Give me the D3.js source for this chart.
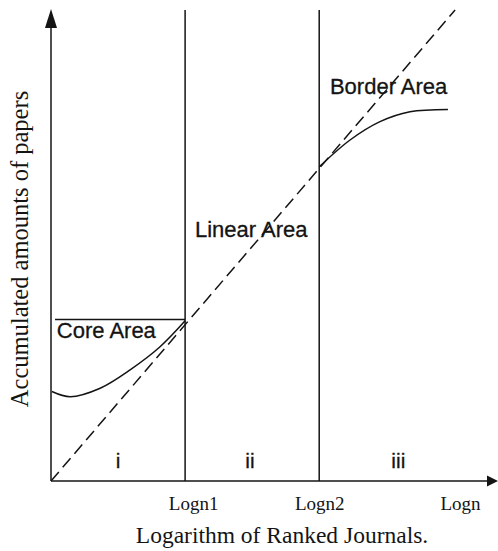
<!DOCTYPE html>
<html>
<head>
<meta charset="utf-8">
<script src="https://cdn.jsdelivr.net/npm/d3@7"></script>
<style>
  html, body { margin: 0; padding: 0; background: #fff; }
  svg { display: block; }
</style>
</head>
<body>
<svg id="chart" width="498" height="551"></svg>
<script>
// ---- data (abstract units: x = log rank, y = accumulated papers) ----
const boundaries = [3, 6];                       // Logn1, Logn2
const tickLabels = ["Logn1", "Logn2", "Logn"];
const tickValues = [3.18, 6, 9.15];
const diagonal = [[0, 0], [9.04, 10]];
const coreCurve = [[0.02, 1.90], [0.43, 1.79], [1.10, 1.97], [1.77, 2.36], [2.44, 2.85], [3.0, 3.40]];
const borderCurve = [[6.0, 6.67], [6.69, 7.24], [7.36, 7.63], [8.03, 7.84], [8.88, 7.89]];
const coreLevel = { y: 3.43, x0: 0.09, x1: 3.0 };
const zoneLabels = ["i", "ii", "iii"];
const zoneCenters = [1.5, 4.45, 7.77];
const areaLabels = [
  { text: "Core Area", x: 0.13, y: 3.04 },
  { text: "Linear Area", x: 3.22, y: 5.18 },
  { text: "Border Area", x: 6.24, y: 8.22 }
];

// ---- layout ----
const svg = d3.select("#chart");
const x = d3.scaleLinear().domain([0, 10]).range([51, 498]);
const y = d3.scaleLinear().domain([0, 10]).range([481, 10]);
const ink = "#141414";
const sw = 1.5;

// axes lines
svg.append("line").attr("x1", x(0)).attr("y1", y(0)).attr("x2", x(0)).attr("y2", y(10) + 14)
  .attr("stroke", ink).attr("stroke-width", sw);
svg.append("path")
  .attr("d", `M${x(0)},${y(10) - 1} L${x(0) - 6},${y(10) + 18} L${x(0) + 6},${y(10) + 18} Z`)
  .attr("fill", ink);
svg.append("line").attr("x1", x(0)).attr("y1", y(0)).attr("x2", x(10) - 8).attr("y2", y(0))
  .attr("stroke", ink).attr("stroke-width", sw);
svg.append("path")
  .attr("d", `M${x(10)},${y(0)} L${x(10) - 11},${y(0) - 5.5} L${x(10) - 11},${y(0) + 5.5} Z`)
  .attr("fill", ink);

// tick labels via d3 axis
const xAxis = d3.axisBottom(x).tickValues(tickValues)
  .tickFormat((d, i) => tickLabels[i]).tickSize(0).tickPadding(0);
const gx = svg.append("g").attr("transform", `translate(0,${y(0)})`).call(xAxis);
gx.select(".domain").remove();
gx.selectAll("text")
  .attr("font-family", "'Liberation Serif', 'Times New Roman', serif")
  .attr("font-size", 19).attr("fill", ink).attr("dy", null).attr("y", 29);

// boundary verticals
svg.selectAll("line.boundary").data(boundaries).join("line")
  .attr("class", "boundary")
  .attr("x1", d => x(d)).attr("x2", d => x(d))
  .attr("y1", y(0)).attr("y2", y(10))
  .attr("stroke", ink).attr("stroke-width", sw);

// diagonal dashed
const line = d3.line().x(d => x(d[0])).y(d => y(d[1]));
svg.append("path").datum(diagonal).attr("d", line)
  .attr("fill", "none").attr("stroke", ink).attr("stroke-width", sw)
  .attr("stroke-dasharray", "12,6");

// curves
const curveLine = d3.line().x(d => x(d[0])).y(d => y(d[1])).curve(d3.curveCatmullRom);
svg.append("path").datum(coreCurve).attr("d", curveLine)
  .attr("fill", "none").attr("stroke", ink).attr("stroke-width", sw);
svg.append("path").datum(borderCurve).attr("d", curveLine)
  .attr("fill", "none").attr("stroke", ink).attr("stroke-width", sw);

// core level line
svg.append("line")
  .attr("x1", x(coreLevel.x0)).attr("x2", x(coreLevel.x1))
  .attr("y1", y(coreLevel.y)).attr("y2", y(coreLevel.y))
  .attr("stroke", ink).attr("stroke-width", sw);

// area labels
svg.selectAll("text.area").data(areaLabels).join("text")
  .attr("class", "area")
  .attr("x", d => x(d.x)).attr("y", d => y(d.y))
  .attr("font-family", "'Liberation Sans', Arial, sans-serif")
  .attr("font-size", 22).attr("fill", ink)
  .attr("stroke", ink).attr("stroke-width", 0.3)
  .text(d => d.text);

// zone labels
svg.selectAll("text.zone").data(zoneLabels).join("text")
  .attr("class", "zone")
  .attr("x", (d, i) => x(zoneCenters[i])).attr("y", y(0) - 13)
  .attr("text-anchor", "middle")
  .attr("font-family", "'Liberation Sans', Arial, sans-serif")
  .attr("font-size", 21).attr("fill", ink)
  .attr("stroke", ink).attr("stroke-width", 0.3)
  .text(d => d);

// axis titles
svg.append("text")
  .attr("x", 282).attr("y", 543)
  .attr("text-anchor", "middle")
  .attr("font-family", "'Liberation Serif', 'Times New Roman', serif")
  .attr("font-size", 23.5).attr("fill", ink)
  .text("Logarithm of Ranked Journals.");
svg.append("text")
  .attr("transform", "translate(28,249) rotate(-90)")
  .attr("text-anchor", "middle")
  .attr("font-family", "'Liberation Serif', 'Times New Roman', serif")
  .attr("font-size", 24.5).attr("fill", ink)
  .text("Accumulated amounts of papers");
</script>
</body>
</html>
